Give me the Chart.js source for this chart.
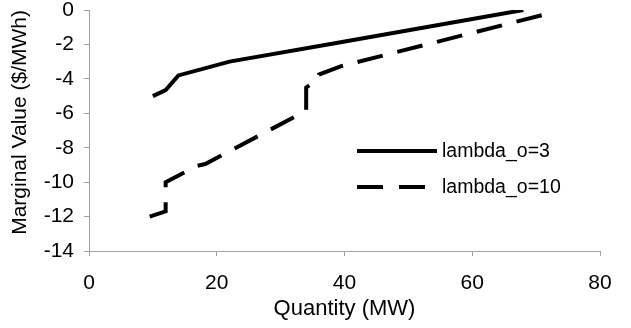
<!DOCTYPE html>
<html>
<head>
<meta charset="utf-8">
<script src="https://cdn.jsdelivr.net/npm/chart.js@4.4.1/dist/chart.umd.min.js"></script>
<style>
html,body{margin:0;padding:0;background:#fff;}
#wrap{width:631px;height:328px;position:relative;}
</style>
</head>
<body>
<div id="wrap"><canvas id="c" width="631" height="328"></canvas></div>
<script>
const seriesLabels = ["lambda_o=3", "lambda_o=10"];
const solidX = [10, 12, 14, 22, 38.5, 68];
const solidY = [-5, -4.65, -3.8, -3.0, -1.93, 0];
const dashX = [9.5, 12, 12, 17, 18.2, 34, 34, 35.8, 36, 39.6, 72];
const dashY = [-12, -11.7, -10, -9.05, -8.95, -5.85, -4.5, -4.05, -3.75, -3.25, -0.2];
const xTicks = [0, 20, 40, 60, 80];
const yTicks = [0, -2, -4, -6, -8, -10, -12, -14];
const xTitle = "Quantity (MW)";
const yTitle = "Marginal Value ($/MWh)";

const FONT = "'Liberation Sans', Arial, sans-serif";
const toPts = (xs, ys) => xs.map((x, i) => ({x: x, y: ys[i]}));

const legendPlugin = {
  id: 'insideLegend',
  afterDatasetsDraw(chart) {
    const ctx = chart.ctx;
    const rows = [{y: 151}, {y: 187}];
    ctx.save();
    chart.data.datasets.forEach((ds, i) => {
      const y = rows[i].y;
      ctx.beginPath();
      ctx.lineWidth = ds.borderWidth;
      ctx.strokeStyle = ds.borderColor;
      ctx.setLineDash(i === 0 ? [] : [26, 16]);
      ctx.lineCap = 'butt';
      ctx.moveTo(357, y);
      ctx.lineTo(i === 0 ? 437 : 425, y);
      ctx.stroke();
      ctx.setLineDash([]);
      ctx.fillStyle = '#000';
      ctx.font = "19.5px " + FONT;
      ctx.textBaseline = 'middle';
      ctx.textAlign = 'left';
      ctx.fillText(ds.label, 442, y + 1);
    });
    ctx.restore();
  }
};

new Chart(document.getElementById('c'), {
  type: 'line',
  data: {
    datasets: [
      {label: seriesLabels[0], data: toPts(solidX, solidY), borderColor: '#000', borderWidth: 4,
       pointRadius: 0, tension: 0, fill: false, borderJoinStyle: 'miter', borderCapStyle: 'butt'},
      {label: seriesLabels[1], data: toPts(dashX, dashY), borderColor: '#000', borderWidth: 4,
       borderDash: [26, 15], pointRadius: 0, tension: 0, fill: false, borderJoinStyle: 'miter', borderCapStyle: 'butt'}
    ]
  },
  options: {
    responsive: false,
    animation: false,
    layout: {padding: {left: 0, right: 31, top: 0, bottom: 0}},
    plugins: {legend: {display: false}, tooltip: {enabled: false}},
    scales: {
      x: {
        type: 'linear', min: 0, max: 80,
        afterBuildTicks: s => { s.ticks = xTicks.map(v => ({value: v})); },
        afterFit: s => { s.height = 77; },
        ticks: {color: '#000', font: {family: FONT, size: 21}, padding: 15, maxRotation: 0},
        grid: {display: true, drawOnChartArea: false, drawTicks: true, tickLength: 5, color: '#a0a0a0'},
        border: {display: true, color: '#a0a0a0', width: 1},
        title: {display: true, text: xTitle, color: '#000', font: {family: FONT, size: 22}, padding: {top: 4, bottom: 6}}
      },
      y: {
        type: 'linear', min: -14, max: 0,
        afterBuildTicks: s => { s.ticks = yTicks.map(v => ({value: v})); },
        afterFit: s => { s.width = 89; s.paddingTop = 10; s.paddingBottom = 0; },
        ticks: {color: '#000', font: {family: FONT, size: 21}, padding: 10},
        grid: {display: true, drawOnChartArea: false, drawTicks: true, tickLength: 5, color: '#a0a0a0'},
        border: {display: true, color: '#a0a0a0', width: 1},
        title: {display: true, text: yTitle, align: 'end', color: '#000', font: {family: FONT, size: 21}, padding: {top: 8, bottom: 4}}
      }
    }
  },
  plugins: [legendPlugin]
});
</script>
</body>
</html>
